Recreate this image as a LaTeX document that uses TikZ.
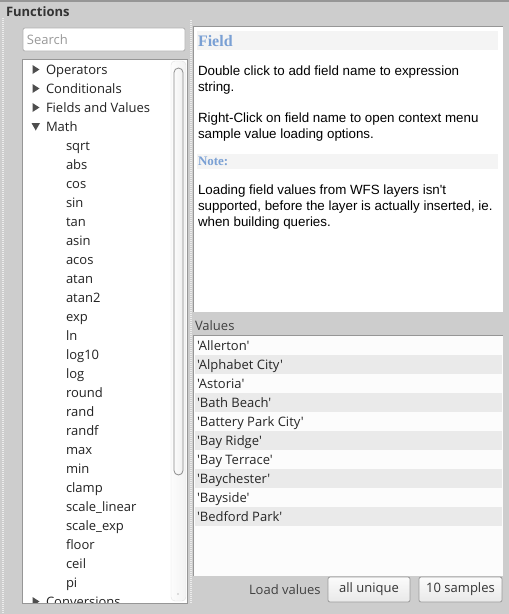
\documentclass[tikz,border=0pt]{standalone}
\usepackage{fontspec}
\setmainfont{Open Sans}[Ligatures=TeXOff]
\newfontfamily\arialf{Liberation Sans}[Ligatures=TeXOff]
\newfontfamily\serifb{Liberation Serif}
\definecolor{bg}{RGB}{205,205,205}
\definecolor{dots}{RGB}{236,236,236}
\definecolor{frame}{RGB}{150,150,150}
\definecolor{rowgray}{RGB}{234,234,234}
\definecolor{rowwhite}{RGB}{252,252,252}
\definecolor{band}{RGB}{244,244,244}
\definecolor{headblue}{RGB}{122,160,212}
\definecolor{uitext}{RGB}{34,34,34}
\definecolor{btnborder}{RGB}{156,156,156}
\begin{document}
\begin{tikzpicture}[x=1pt,y=-1pt,
  ui/.style={anchor=base west,inner sep=0pt,outer sep=0pt,font=\fontsize{13}{15}\selectfont,text=uitext},
  helptext/.style={anchor=base west,inner sep=0pt,outer sep=0pt,font=\arialf\fontsize{13.35}{16}\selectfont,text=black},
  helphead/.style={anchor=base west,inner sep=0pt,outer sep=0pt,text=headblue},
  sep/.style={draw=dots,line width=2pt,dash pattern=on 1pt off 1pt},
  panel/.style={fill=white,draw=frame,line width=0.8pt},
  btn/.style={rounded corners=2pt,draw=btnborder,line width=0.8pt,top color=white!92!bg,bottom color=white!55!bg},
  tri/.style={fill=uitext!80}]
\useasboundingbox (0,0) rectangle (509,614);
\fill[bg] (0,0) rectangle (509,614);
\draw[frame,line width=1.5pt] (0,0.75) -- (509,0.75);
% separators
\draw[sep] (2.5,18) -- (2.5,614);
\draw[sep] (190.5,20) -- (190.5,604);
% title
\node[ui,font=\bfseries\fontsize{13}{15}\selectfont,text=black!80] (title) at (6,16) {Functions};
% search box
\draw[fill=white,draw=black!30,rounded corners=2pt,line width=0.8pt] (23,28) rectangle (185,51);
\node[ui,text=black!40] (search) at (27,44) {Search};
% tree panel
\draw[panel] (22,59.5) rectangle (187,603);
\begin{scope}
\clip (23,60) rectangle (186,602.5);
% scrollbar
\draw[left color=white!95!bg,right color=white!75!bg,draw=black!12,rounded corners=4pt] (171,61) rectangle (186,601);
\draw[left color=white!92!bg,right color=white!70!bg,draw=black!45,rounded corners=4.5pt,line width=0.8pt] (174,68) rectangle (183,475);
\fill[black!50] (178,594) circle (0.6);
% top level items
\foreach \name/\lbl [count=\i from 0] in {op/Operators,cond/Conditionals,fav/Fields and Values,math/Math}{
  \node[ui] (\name) at (46,74+19*\i) {\lbl};
}
\foreach \i in {0,1,2}{
  \fill[tri] (32.5,65+19*\i) -- (39.5,69.5+19*\i) -- (32.5,74+19*\i) -- cycle;
}
\fill[tri] (31.5,123) -- (40,123) -- (35.75,130.5) -- cycle;
\foreach \lbl [count=\i from 0] in {sqrt,abs,cos,sin,tan,asin,acos,atan,atan2,exp,ln,log10,log,round,rand,randf,max,min,clamp,scale\_linear,scale\_exp,floor,ceil,pi}{
  \node[ui] (f\i) at (66,150+19*\i) {\lbl};
}
\node[ui] (conv) at (46,606) {Conversions};
\fill[tri] (32.5,597) -- (39.5,601.5) -- (32.5,606) -- cycle;
\end{scope}
% help panel
\fill[white] (193,26) rectangle (503,312);
\draw[frame,line width=1pt] (193.5,312) -- (193.5,26.5) -- (503,26.5);
\fill[band] (197,31) rectangle (498,50);
\node[helphead,font=\serifb\bfseries\fontsize{16}{18}\selectfont] (fieldhead) at (198,46) {Field};
\node[helptext] (h1) at (198,75) {Double click to add field name to expression};
\node[helptext] (h2) at (198,91) {string.};
\node[helptext] (h3) at (198,122) {Right-Click on field name to open context menu};
\node[helptext] (h4) at (198,138) {sample value loading options.};
\fill[band] (197,154) rectangle (498,169);
\node[helphead,font=\serifb\bfseries\fontsize{13}{15}\selectfont] (notehead) at (198,165.5) {Note:};
\node[helptext] (h5) at (198,194) {Loading field values from WFS layers isn't};
\node[helptext] (h6) at (198,210) {supported, before the layer is actually inserted, ie.};
\node[helptext] (h7) at (198,226) {when building queries.};
% values
\node[ui,text=black!75] (valueslbl) at (195,330.5) {Values};
\fill[rowwhite] (193,335) rectangle (503,576);
\draw[frame,line width=1pt] (193.5,576) -- (193.5,335.5) -- (503,335.5);
\foreach \v [count=\i from 0] in {'Allerton','Alphabet City','Astoria','Bath Beach','Battery Park City','Bay Ridge','Bay Terrace','Baychester','Bayside','Bedford Park'}{
  \ifodd\i \fill[rowgray] (194.5,336+19*\i) rectangle (502,355+19*\i); \fi
  \node[ui,text=black!85] (v\i) at (197,350+19*\i) {\v};
}
% bottom controls
\node[ui,text=black!75] (loadlbl) at (249,594.5) {Load values};
\node[btn,minimum width=82pt,minimum height=25pt,inner sep=0pt,font=\fontsize{13}{15}\selectfont,text=black!80] (allunique) at (369,589.5) {all unique};
\node[btn,minimum width=83pt,minimum height=25pt,inner sep=0pt,font=\fontsize{13}{15}\selectfont,text=black!80] (tensamples) at (460.5,589.5) {10 samples};
\end{tikzpicture}
\end{document}
